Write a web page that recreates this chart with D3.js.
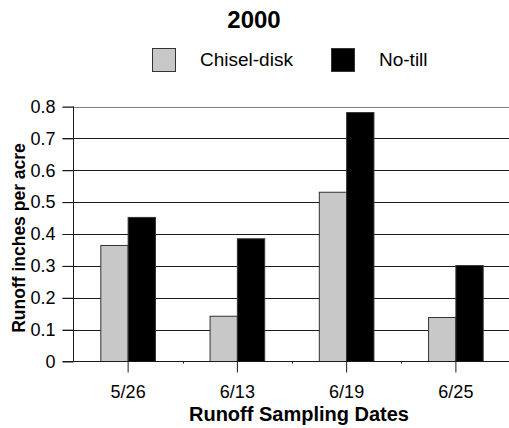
<!DOCTYPE html>
<html><head><meta charset="utf-8">
<script src="https://cdn.jsdelivr.net/npm/d3@7"></script>
<style>body{margin:0;background:#fff;} svg{display:block;}</style>
</head><body>
<svg id="c" width="509" height="428"></svg>
<script>
const title = "2000";
const categories = ["5/26", "6/13", "6/19", "6/25"];
const seriesNames = ["Chisel-disk", "No-till"];
const chiselDisk = [0.364, 0.142, 0.531, 0.138];
const noTill = [0.452, 0.385, 0.781, 0.301];
const yTicks = [0, 0.1, 0.2, 0.3, 0.4, 0.5, 0.6, 0.7, 0.8];
const yTickLabels = ["0", "0.1", "0.2", "0.3", "0.4", "0.5", "0.6", "0.7", "0.8"];
const xTitle = "Runoff Sampling Dates";
const yTitle = "Runoff inches per acre";

const colors = ["#c8c8c8", "#000000"];
const series = [chiselDisk, noTill];
const font = "'Liberation Sans', Arial, sans-serif";

const svg = d3.select("#c");
const L = 73.5, R = 510.5, T = 106.5, B = 361.5;

const x0 = d3.scaleBand().domain(categories).range([L, R]).paddingInner(0.5).paddingOuter(0.25);
const x1 = d3.scaleBand().domain(seriesNames).range([0, x0.bandwidth()]);
const y = d3.scaleLinear().domain([0, 0.8]).range([B, T]);

// gridlines
svg.append("g").selectAll("line").data(yTicks.filter(d => d > 0)).join("line")
  .attr("x1", L - 11).attr("x2", R)
  .attr("y1", d => Math.round(y(d)) + 0.5).attr("y2", d => Math.round(y(d)) + 0.5)
  .attr("stroke", d => d === 0.8 ? "#808080" : "#1a1a1a").attr("stroke-width", 1);

// bars
const groups = svg.append("g").selectAll("g").data(categories).join("g")
  .attr("transform", d => `translate(${x0(d)},0)`);
groups.selectAll("rect").data((d, i) => seriesNames.map((s, j) => ({s, v: series[j][i], j}))).join("rect")
  .attr("x", d => x1(d.s))
  .attr("y", d => y(d.v))
  .attr("width", x1.bandwidth())
  .attr("height", d => B - y(d.v))
  .attr("fill", d => colors[d.j])
  .attr("stroke", "#333")
  .attr("stroke-width", 1);

// y axis
const yAxis = d3.axisLeft(y).tickValues(yTicks).tickFormat((d, i) => yTickLabels[i]).tickSize(11).tickPadding(7);
const gy = svg.append("g").attr("transform", `translate(${L},0)`).call(yAxis);
gy.select(".domain").attr("stroke", "#1a1a1a").attr("d", `M0,${T}V${B}`);
gy.selectAll(".tick line").attr("stroke", "#1a1a1a");
gy.selectAll("text").attr("font-family", font).attr("font-size", 18).attr("fill", "#000");

// x axis
const xAxis = d3.axisBottom(x0).tickSize(11).tickPadding(13).tickSizeOuter(0);
const gx = svg.append("g").attr("transform", `translate(0,${B})`).call(xAxis);
gx.select(".domain").attr("stroke", "#1a1a1a").attr("d", `M${L - 11},0H${R}`);
gx.selectAll(".tick line").attr("stroke", "#1a1a1a");
gx.selectAll("text").attr("font-family", font).attr("font-size", 18).attr("fill", "#000");
// minor ticks at band boundaries
const bounds = categories.slice(1).map(c => x0(c) - x0.step() * x0.paddingInner() / 2);
gx.append("g").selectAll("line").data(bounds).join("line")
  .attr("x1", d => Math.round(d) + 0.5).attr("x2", d => Math.round(d) + 0.5)
  .attr("y1", 0).attr("y2", 2).attr("stroke", "#1a1a1a");

// titles
svg.append("text").attr("x", 254).attr("y", 27.5).attr("text-anchor", "middle")
  .attr("font-family", font).attr("font-weight", "bold").attr("font-size", 24).text(title);
svg.append("text").attr("x", 299).attr("y", 421).attr("text-anchor", "middle")
  .attr("font-family", font).attr("font-weight", "bold").attr("font-size", 20).text(xTitle);
svg.append("text").attr("transform", `translate(25,238) rotate(-90)`).attr("text-anchor", "middle")
  .attr("font-family", font).attr("font-weight", "bold").attr("font-size", 17.5).text(yTitle);

// legend
const legX = [152.5, 331.5];
const lg = svg.append("g").selectAll("g").data(seriesNames).join("g")
  .attr("transform", (d, i) => `translate(${legX[i]},48.5)`);
lg.append("rect").attr("width", 23).attr("height", 23).attr("fill", (d, i) => colors[i]).attr("stroke", "#333");
lg.append("text").attr("x", 47.5).attr("y", 17).attr("font-family", font).attr("font-size", 19).text(d => d);
</script>
</body></html>
